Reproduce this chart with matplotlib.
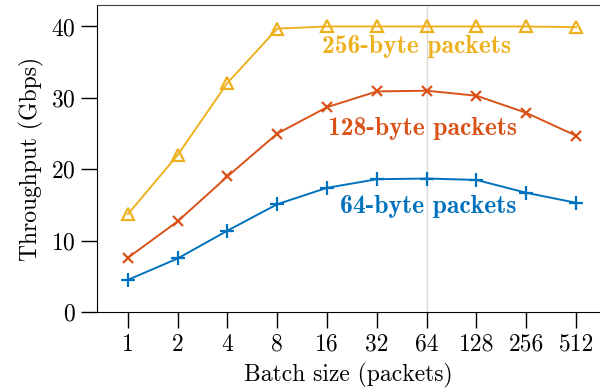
import matplotlib.pyplot as plt
import numpy as np

plt.rcParams['font.family'] = 'cmr10'
plt.rcParams['axes.formatter.use_mathtext'] = True

#Data:
batch_labels = ['1', '2', '4', '8', '16', '32', '64', '128', '256', '512']
tput_64 = [4.5, 7.5, 11.4, 15.1, 17.4, 18.6, 18.7, 18.5, 16.7, 15.3]
tput_128 = [7.6, 12.7, 19.0, 25.0, 28.7, 30.9, 31.0, 30.3, 27.9, 24.7]
tput_256 = [13.7, 22.0, 32.1, 39.7, 40.0, 40.0, 40.0, 40.0, 40.0, 39.9]

blue = '#0072BD'
red = '#D95319'
yellow = '#EDB120'

x = np.arange(len(batch_labels))

fig = plt.figure(figsize=(6, 3.9), dpi=100)
ax = fig.add_axes([0.1617, 0.2, 0.8383, 0.787])

ax.axvline(6, color='#d9d9d9', lw=1, zorder=0)

ax.plot(x, tput_256, color=yellow, lw=1.4, marker='^', ms=9, mfc='none', mew=1.6)
ax.plot(x, tput_128, color=red, lw=1.4, marker='x', ms=7, mew=1.6)
ax.plot(x, tput_64, color=blue, lw=1.4, marker='+', ms=10, mew=1.6)

#label centres in image pixels (from top-left), converted to display coords
H = 390
ax.text(417, H - 46, '256-byte packets', color=yellow, fontsize=18.5, family='cmb10',
        ha='center', va='center', transform=None)
ax.text(422, H - 128, '128-byte packets', color=red, fontsize=18.5, family='cmb10',
        ha='center', va='center', transform=None)
ax.text(428, H - 207, '64-byte packets', color=blue, fontsize=18.5, family='cmb10',
        ha='center', va='center', transform=None)

ax.set_xlim(-0.62, 9.48)
ax.set_ylim(0, 43)
ax.set_xticks(x)
ax.set_xticklabels(batch_labels)
ax.set_yticks([0, 10, 20, 30, 40])
ax.tick_params(direction='out', length=11.5, width=1, labelsize=17, pad=4)

ax.spines['right'].set_visible(False)
ax.spines['top'].set_color('#404040')

ax.set_xlabel('Batch size (packets)', fontsize=17, labelpad=5)
ax.set_ylabel('Throughput (Gbps)', fontsize=17, labelpad=5)

plt.savefig('out.png', dpi=100)
